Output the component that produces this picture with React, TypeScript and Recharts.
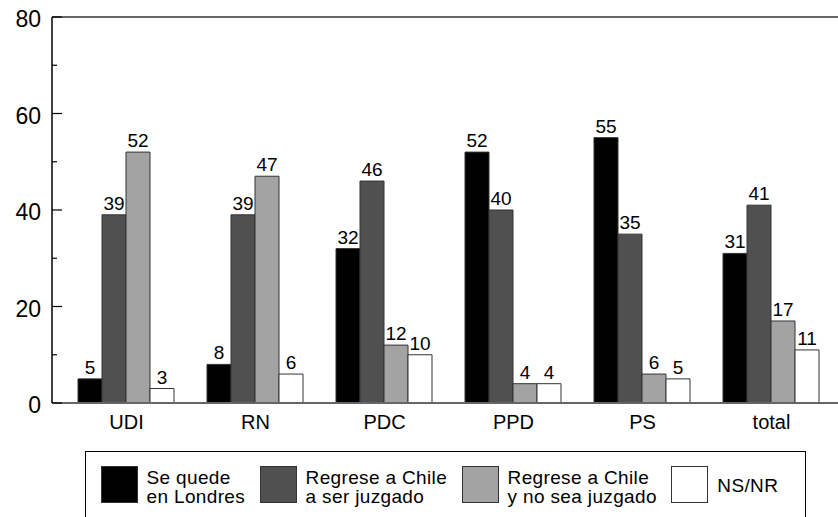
import { BarChart, Bar, XAxis, YAxis, ReferenceLine, LabelList, Legend } from 'recharts';

// --- Data ---
const PARTIES = ['UDI', 'RN', 'PDC', 'PPD', 'PS', 'total'];
const SE_QUEDE = [5, 8, 32, 52, 55, 31];
const REGRESE_JUZGADO = [39, 39, 46, 40, 35, 41];
const REGRESE_NO_JUZGADO = [52, 47, 12, 4, 6, 17];
const NS_NR = [3, 6, 10, 4, 5, 11];
const Y_TICKS = [0, 10, 20, 30, 40, 50, 60, 70, 80];

const SERIES = [
  { key: 'seQuede', name: 'Se quede en Londres', lines: ['Se quede', 'en Londres'], fill: '#000000' },
  { key: 'regreseJuzgado', name: 'Regrese a Chile a ser juzgado', lines: ['Regrese a Chile', 'a ser juzgado'], fill: '#505050' },
  { key: 'regreseNoJuzgado', name: 'Regrese a Chile y no sea juzgado', lines: ['Regrese a Chile', 'y no sea juzgado'], fill: '#a3a3a3' },
  { key: 'nsnr', name: 'NS/NR', lines: ['NS/NR'], fill: '#ffffff' },
];

const data = PARTIES.map((party, i) => ({
  party,
  seQuede: SE_QUEDE[i],
  regreseJuzgado: REGRESE_JUZGADO[i],
  regreseNoJuzgado: REGRESE_NO_JUZGADO[i],
  nsnr: NS_NR[i],
}));

const FONT = '"Liberation Sans", Arial, Helvetica, sans-serif';
const TICK_SIZE = 6;
const TICK_MARGIN = 5;

// y ticks point inwards; only every 20 gets a label
const YTick = (props: any) => {
  const { x, y, payload } = props;
  const v = payload.value as number;
  const axisX = x + TICK_SIZE + TICK_MARGIN;
  const major = v % 20 === 0;
  return (
    <g>
      <line x1={axisX} x2={axisX + (major ? 10 : 5)} y1={y} y2={y} stroke="#000" strokeWidth={1.2} />
      {major && (
        <text x={x} y={y} dy={10} textAnchor="end" fontSize={23} fill="#000" fontFamily={FONT}>
          {v}
        </text>
      )}
    </g>
  );
};

const LegendBox = () => (
  <div
    style={{
      boxSizing: 'border-box',
      width: '100%',
      height: '100%',
      borderTop: '1.5px solid #000',
      borderLeft: '1.5px solid #000',
      borderRight: '1.5px solid #000',
      padding: '13.5px 0 0 14.5px',
      display: 'flex',
      alignItems: 'flex-start',
      fontFamily: FONT,
      fontSize: 19,
      letterSpacing: 0.35,
      lineHeight: '19px',
      color: '#000',
    }}
  >
    {SERIES.map((s) => (
      <div key={s.key} style={{ display: 'flex', alignItems: 'flex-start', marginRight: 14.5 }}>
        <div
          style={{
            boxSizing: 'border-box',
            width: 37,
            height: 37,
            background: s.fill,
            border: '1px solid #333',
            marginRight: 9,
            flexShrink: 0,
          }}
        />
        <div style={{ marginTop: s.lines.length > 1 ? 2 : 10.7, whiteSpace: 'nowrap' }}>
          {s.lines.map((l) => (
            <div key={l}>{l}</div>
          ))}
        </div>
      </div>
    ))}
  </div>
);

export default function App() {
  return (
    <div style={{ position: 'absolute', left: 0, top: 0, width: 838, height: 517, overflow: 'hidden', background: '#fff' }}>
      <BarChart
        width={838}
        height={517}
        data={data}
        margin={{ top: 17, right: 0, left: 0, bottom: 84 }}
        barCategoryGap={16}
        barGap={0}
        style={{ fontFamily: FONT }}
      >
        <XAxis
          dataKey="party"
          height={30}
          padding={{ left: 10, right: 2 }}
          axisLine={{ stroke: '#666', strokeWidth: 2 }}
          tickLine={false}
          tickSize={TICK_SIZE}
          tickMargin={6}
          tick={{ fontSize: 20, fill: '#000', fontFamily: FONT }}
        />
        <YAxis
          width={52}
          domain={[0, 80]}
          ticks={Y_TICKS}
          interval={0}
          axisLine={{ stroke: '#000', strokeWidth: 1.5 }}
          tickLine={false}
          tickSize={TICK_SIZE}
          tickMargin={TICK_MARGIN}
          tick={<YTick />}
        />
        <ReferenceLine y={80} stroke="#666" strokeWidth={2} />
        {SERIES.map((s) => (
          <Bar key={s.key} dataKey={s.key} name={s.name} fill={s.fill} stroke="#333" strokeWidth={1} isAnimationActive={false}>
            <LabelList dataKey={s.key} position="top" fill="#000" fontSize={19} fontFamily={FONT} />
          </Bar>
        ))}
        <Legend
          layout="horizontal"
          verticalAlign="middle"
          align="center"
          content={<LegendBox />}
          wrapperStyle={{ left: 85, top: 451, right: 'auto', bottom: 'auto', width: 721, height: 80, margin: 0 }}
        />
      </BarChart>
    </div>
  );
}
